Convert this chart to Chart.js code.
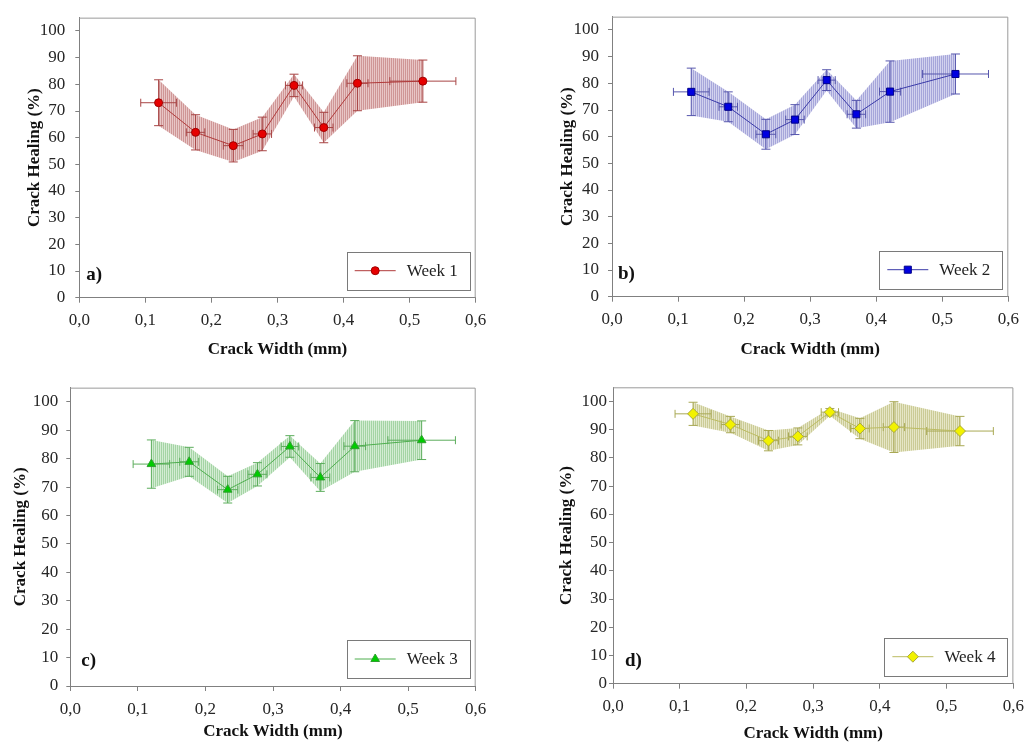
<!DOCTYPE html>
<html>
<head>
<meta charset="utf-8">
<title>Crack Healing vs Crack Width</title>
<script src="https://cdn.jsdelivr.net/npm/chart.js@4.4.1/dist/chart.umd.min.js"></script>
<style>
  html, body { margin: 0; padding: 0; background: #fff; }
  #wrap { position: relative; width: 1032px; height: 744px; }
  .panel { position: absolute; width: 516px; height: 372px; }
</style>
</head>
<body>
<div id="wrap">
  <div class="panel" style="left:0;top:0"><canvas id="chartA"></canvas></div>
  <div class="panel" style="left:516px;top:0"><canvas id="chartB"></canvas></div>
  <div class="panel" style="left:0;top:372px"><canvas id="chartC"></canvas></div>
  <div class="panel" style="left:516px;top:372px"><canvas id="chartD"></canvas></div>
</div>
<script>
// ---- data ----
const crackWidth = [0.12, 0.176, 0.233, 0.277, 0.325, 0.37, 0.421, 0.52];
const widthErr   = [0.027, 0.014, 0.015, 0.014, 0.013, 0.014, 0.016, 0.05];

const week1    = [73.1, 62.0, 57.0, 61.4, 79.6, 63.8, 80.4, 81.2];
const week1Err = [8.6, 6.6, 6.1, 6.3, 4.2, 5.7, 10.3, 7.9];
const week2    = [76.8, 71.2, 60.9, 66.4, 81.2, 68.4, 76.9, 83.5];
const week2Err = [8.9, 5.6, 5.6, 5.6, 3.9, 5.2, 11.5, 7.5];
const week3    = [78.1, 78.9, 69.1, 74.5, 84.3, 73.4, 84.4, 86.5];
const week3Err = [8.5, 5.1, 4.7, 4.1, 3.8, 4.9, 9.0, 6.8];
const week4    = [95.6, 91.8, 86.1, 87.6, 96.2, 90.4, 90.9, 89.5];
const week4Err = [4.1, 2.9, 3.6, 3.0, 1.3, 3.6, 9.0, 5.2];

const xTicks = [0, 0.1, 0.2, 0.3, 0.4, 0.5, 0.6];
const yTicks = [0, 10, 20, 30, 40, 50, 60, 70, 80, 90, 100];

const FONT = "'Liberation Serif', 'Times New Roman', serif";
const W = 516, H = 372;

// ---- panel layout / styles ----
const panels = [
  { id: "chartA", tag: "a)", name: "Week 1", values: week1, err: week1Err,
    L: 79.3, T: 8.3, R: 475.7, B: 297.7, yTitleX: 35, xTitleY: 350, yPad: 10, tagDx: 7, tagDy: 23,
    line: "#b03a3a", bar: "#a84545", fill: "#e60000", edge: "#a00000",
    light: "#e8c6c6", dark: "#cf9696", marker: "circle", radius: 4 },
  { id: "chartB", tag: "b)", name: "Week 2", values: week2, err: week2Err,
    L: 96, T: 7.3, R: 492.3, B: 296.7, yTitleX: 51.5, xTitleY: 350, yPad: 9, tagDx: 6, tagDy: 23,
    line: "#3a3aa8", bar: "#5656ad", fill: "#0000e0", edge: "#00008a",
    light: "#d2d2ee", dark: "#a6a6da", marker: "rect", radius: 5 },
  { id: "chartC", tag: "c)", name: "Week 3", values: week3, err: week3Err,
    L: 70.3, T: 13.3, R: 475.7, B: 314, yTitleX: 21, xTitleY: 359.7, yPad: 8, tagDx: 11, tagDy: 25,
    line: "#4fae4f", bar: "#5cad5c", fill: "#00cc00", edge: "#2f9f2f",
    light: "#d3ecd3", dark: "#a4d4a4", marker: "triangle", radius: 5 },
  { id: "chartD", tag: "d)", name: "Week 4", values: week4, err: week4Err,
    L: 97, T: 15.3, R: 503, B: 311.7, yTitleX: 50.5, xTitleY: 361.3, yPad: 2, tagDx: 12, tagDy: 23,
    line: "#bcbc62", bar: "#a9a955", fill: "#f2f200", edge: "#a8a83c",
    light: "#e6e6c6", dark: "#cbcb96", marker: "rectRot", radius: 5.5 },
];

// vertical hatch used for the error band
function stripes(light, dark) {
  const c = document.createElement("canvas");
  c.width = 2; c.height = 4;
  const g = c.getContext("2d");
  g.fillStyle = light; g.fillRect(0, 0, 2, 4);
  g.fillStyle = dark; g.fillRect(1, 0, 1, 4);
  return g.createPattern(c, "repeat");
}

function marker(ctx, style, x, y, r) {
  ctx.beginPath();
  if (style === "circle") {
    ctx.arc(x, y, r, 0, Math.PI * 2);
  } else if (style === "rect") {
    const s = r * Math.SQRT1_2;
    ctx.rect(x - s, y - s, 2 * s, 2 * s);
  } else if (style === "triangle") {
    ctx.moveTo(x, y - r);
    ctx.lineTo(x + r * 0.866, y + r * 0.5);
    ctx.lineTo(x - r * 0.866, y + r * 0.5);
    ctx.closePath();
  } else {
    ctx.moveTo(x, y - r); ctx.lineTo(x + r, y); ctx.lineTo(x, y + r); ctx.lineTo(x - r, y);
    ctx.closePath();
  }
  ctx.fill(); ctx.stroke();
}

// frame, error bars, legend box, panel tag
const decor = {
  id: "decor",
  beforeDatasetsDraw(chart) {
    const a = chart.chartArea, ctx = chart.ctx;
    ctx.save();
    ctx.strokeStyle = "#9a9a9a";
    ctx.lineWidth = 1;
    ctx.beginPath();
    ctx.moveTo(a.left, a.top + 0.5); ctx.lineTo(a.right - 0.5, a.top + 0.5); ctx.lineTo(a.right - 0.5, a.bottom);
    ctx.stroke();
    ctx.restore();
  },
  beforeDatasetDraw(chart, args) {
    if (args.index !== 2) return;
    const p = chart.options.plugins.decor.panel;
    const ctx = chart.ctx, xs = chart.scales.x, ys = chart.scales.y;
    ctx.save();
    ctx.strokeStyle = p.bar;
    ctx.lineWidth = 1;
    crackWidth.forEach((cw, i) => {
      const px = xs.getPixelForValue(cw), py = ys.getPixelForValue(p.values[i]);
      const yHi = ys.getPixelForValue(p.values[i] + p.err[i]);
      const yLo = ys.getPixelForValue(p.values[i] - p.err[i]);
      const xLo = xs.getPixelForValue(cw - widthErr[i]);
      const xHi = xs.getPixelForValue(cw + widthErr[i]);
      ctx.beginPath();
      ctx.moveTo(px, yHi); ctx.lineTo(px, yLo);
      ctx.moveTo(px - 4.5, yHi); ctx.lineTo(px + 4.5, yHi);
      ctx.moveTo(px - 4.5, yLo); ctx.lineTo(px + 4.5, yLo);
      ctx.moveTo(xLo, py); ctx.lineTo(xHi, py);
      ctx.moveTo(xLo, py - 4); ctx.lineTo(xLo, py + 4);
      ctx.moveTo(xHi, py - 4); ctx.lineTo(xHi, py + 4);
      ctx.stroke();
    });
    ctx.restore();
  },
  afterDraw(chart) {
    const p = chart.options.plugins.decor.panel;
    const a = chart.chartArea, ctx = chart.ctx;
    ctx.save();
    // legend
    const bw = 123, bh = 38;
    const bx = a.right - 6 - bw, by = a.bottom - 8 - bh;
    ctx.fillStyle = "#fff";
    ctx.fillRect(bx, by, bw, bh);
    ctx.strokeStyle = "#7a7a7a";
    ctx.lineWidth = 1;
    ctx.strokeRect(Math.round(bx) + 0.5, Math.round(by) + 0.5, bw, bh);
    const cy = by + bh / 2;
    ctx.strokeStyle = p.line;
    ctx.beginPath(); ctx.moveTo(bx + 8, cy); ctx.lineTo(bx + 49, cy); ctx.stroke();
    ctx.fillStyle = p.fill; ctx.strokeStyle = p.edge;
    marker(ctx, p.marker, bx + 28.5, cy, p.radius);
    ctx.fillStyle = "#222";
    ctx.font = "17px " + FONT;
    ctx.textBaseline = "middle";
    ctx.textAlign = "left";
    ctx.fillText(p.name, bx + 60, cy + 1);
    // panel tag
    ctx.font = "bold 19px " + FONT;
    ctx.fillStyle = "#111";
    ctx.fillText(p.tag, a.left + p.tagDx, a.bottom - p.tagDy);
    ctx.restore();
  }
};

function makeChart(p) {
  const pts = ys => crackWidth.map((x, i) => ({ x, y: ys[i] }));
  const hi = p.values.map((v, i) => v + p.err[i]);
  const lo = p.values.map((v, i) => v - p.err[i]);
  const tickFont = { family: FONT, size: 17 };
  const titleFont = { family: FONT, size: 17, weight: "bold" };

  return new Chart(document.getElementById(p.id), {
    type: "scatter",
    data: {
      datasets: [
        { label: "lo", data: pts(lo), order: 2, showLine: true, borderWidth: 0, borderColor: "transparent",
          pointRadius: 0, fill: false },
        { label: "hi", data: pts(hi), order: 1, showLine: true, borderWidth: 0, borderColor: "transparent",
          pointRadius: 0, fill: "-1", backgroundColor: stripes(p.light, p.dark) },
        { label: p.name, data: pts(p.values), order: 0, showLine: true, borderColor: p.line, borderWidth: 1,
          pointStyle: p.marker, pointRadius: p.radius, pointBackgroundColor: p.fill,
          pointBorderColor: p.edge, pointBorderWidth: 1, fill: false },
      ],
    },
    options: {
      responsive: true,
      maintainAspectRatio: false,
      animation: false,
      events: [],
      layout: { padding: { left: 0, top: p.T, right: W - p.R, bottom: 0 } },
      plugins: {
        legend: { display: false },
        tooltip: { enabled: false },
        decor: { panel: p },
      },
      scales: {
        x: {
          type: "linear", min: 0, max: 0.6,
          afterBuildTicks: s => { s.ticks = xTicks.map(v => ({ value: v })); },
          afterFit: s => { s.height = H - p.B; },
          border: { color: "#808080", width: 1 },
          grid: { drawOnChartArea: false, drawTicks: true, tickLength: 5, color: "#808080" },
          ticks: {
            padding: 8, color: "#262626", font: tickFont, maxRotation: 0, autoSkip: false,
            callback: v => v.toFixed(1).replace(".", ","),
          },
          title: { display: true, text: "Crack Width (mm)", color: "#111", font: titleFont,
            padding: { top: 0, bottom: (H - p.xTitleY) - 10.2 } },
        },
        y: {
          type: "linear", min: 0, max: 105,
          afterBuildTicks: s => { s.ticks = yTicks.map(v => ({ value: v })); },
          afterFit: s => { s.width = p.L; },
          border: { color: "#808080", width: 1 },
          grid: { drawOnChartArea: false, drawTicks: true, tickLength: 4, color: "#808080" },
          ticks: { padding: p.yPad, color: "#262626", font: { family: FONT, size: 17, lineHeight: 0.9 } },
          title: { display: true, text: "Crack Healing (%)", color: "#111", font: titleFont,
            padding: { top: p.yTitleX - 10.2, bottom: 0 } },
        },
      },
    },
    plugins: [decor],
  });
}

panels.forEach(makeChart);
</script>
</body>
</html>
